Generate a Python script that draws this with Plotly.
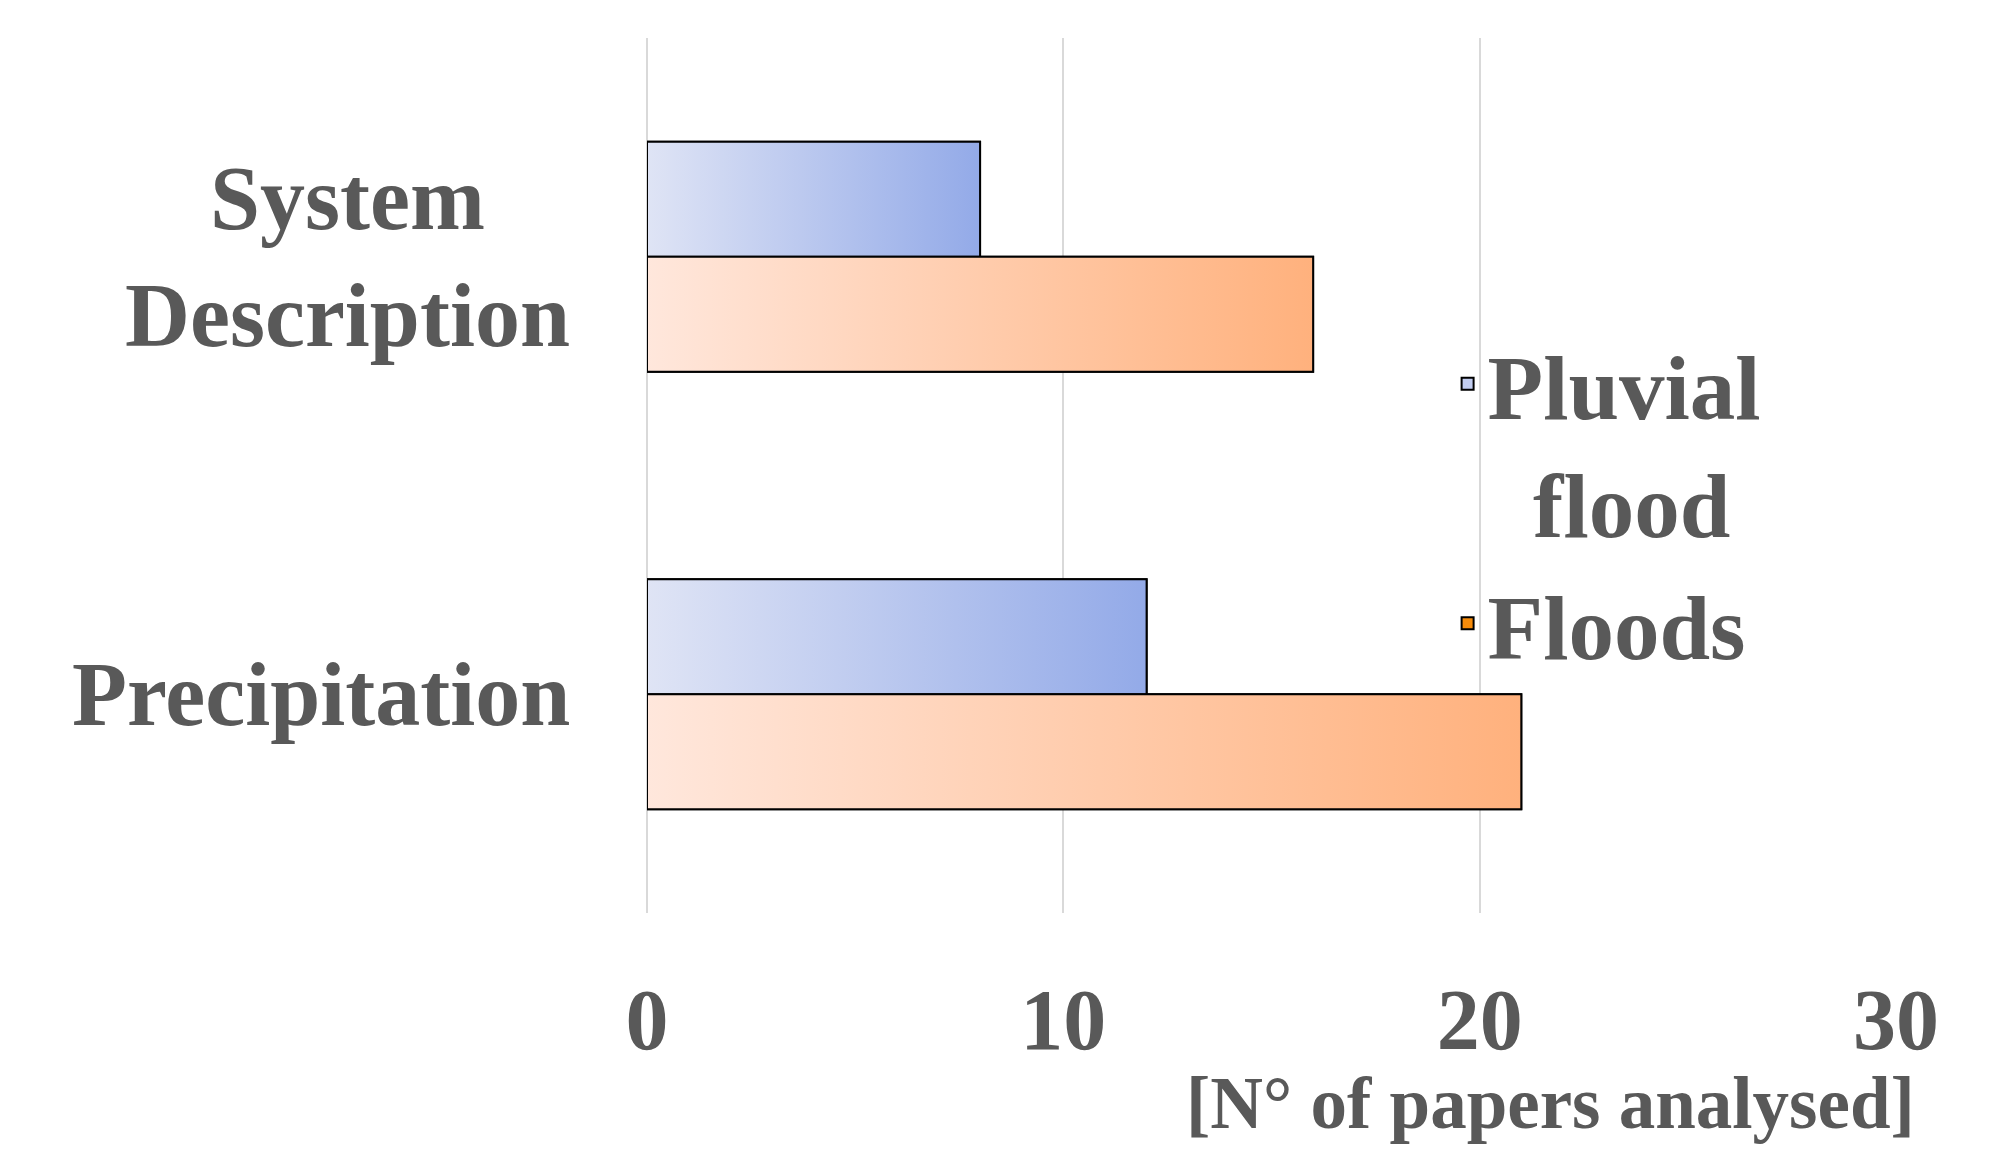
import plotly.graph_objects as go

categories = ["System Description", "Precipitation"]
category_labels = ["System<br>Description", "Precipitation"]
pluvial_values = [8, 12]
floods_values = [16, 21]
series_names = ["Pluvial<br>\u00a0\u00a0flood", "Floods"]
x_ticks = [0, 10, 20, 30]
x_title = "[N° of papers analysed]"

FONT = "Liberation Serif, DejaVu Serif, serif"
TXT = "#595959"
BAR_W = 0.263

series = [
    dict(name=series_names[0], values=pluvial_values, offset=-BAR_W,
         legend_color="#C2CDF0", grad=["#DFE4F5", "#93AAE8"]),
    dict(name=series_names[1], values=floods_values, offset=0.0,
         legend_color="#F68B0A", grad=["#FFE7DC", "#FFB17D"]),
]

idx = list(range(len(categories)))
fig = go.Figure()

for s in series:
    fig.add_trace(go.Bar(
        y=idx, x=s["values"], orientation="h", name=s["name"],
        width=BAR_W, offset=s["offset"],
        marker=dict(color=s["legend_color"], line=dict(color="black", width=2)),
        customdata=categories,
        hovertemplate="%{customdata}: %{x}<extra></extra>",
    ))

# gradient overlay for each bar, built from the same values
for s in series:
    for i, v in zip(idx, s["values"]):
        y0 = i + s["offset"]
        y1 = y0 + BAR_W
        fig.add_trace(go.Scatter(
            x=[0, v, v, 0, 0], y=[y0, y0, y1, y1, y0],
            mode="lines", fill="toself",
            fillgradient=dict(type="horizontal",
                              colorscale=[[0, s["grad"][0]], [1, s["grad"][1]]]),
            line=dict(color="black", width=2),
            showlegend=False, hoverinfo="skip",
        ))

for i, lab in zip(idx, category_labels):
    fig.add_annotation(
        x=-0.060, xref="paper", y=i, yref="y", text=lab, showarrow=False,
        xanchor="right", yanchor="middle", align="center",
        font=dict(family=FONT, size=90, color=TXT, weight="bold"),
    )

fig.add_annotation(
    x=1.017, xref="paper", y=-0.218, yref="paper", text=x_title, showarrow=False,
    xanchor="right", yanchor="middle",
    font=dict(family=FONT, size=73, color=TXT, weight="bold"),
)

fig.update_layout(
    width=2002, height=1170,
    margin=dict(l=639, r=114, t=30, b=265),
    plot_bgcolor="white", paper_bgcolor="white",
    barmode="overlay",
    showlegend=True,
    legend=dict(
        x=0.641, y=0.68, xanchor="left", yanchor="top",
        font=dict(family=FONT, size=91, color=TXT, weight="bold"),
        valign="top", tracegroupgap=52, bgcolor="rgba(0,0,0,0)",
        itemwidth=30,
    ),
    xaxis=dict(
        range=[0, 30], tickvals=x_ticks, showgrid=True, gridcolor="#D9D9D9",
        gridwidth=2, zeroline=True, zerolinecolor="#D9D9D9", zerolinewidth=2,
        showline=False, ticks="", ticklabelstandoff=49,
        tickfont=dict(family=FONT, size=86, color=TXT, weight="bold"),
    ),
    yaxis=dict(
        range=[1.5, -0.5], autorange=False, showticklabels=False,
        showgrid=False, zeroline=False, showline=False,
    ),
)

fig.write_html("out.html")
